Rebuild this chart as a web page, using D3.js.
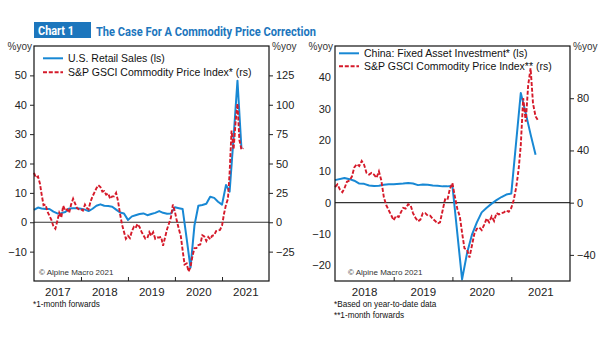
<!DOCTYPE html>
<html><head><meta charset="utf-8">
<script src="https://cdn.jsdelivr.net/npm/d3@7"></script>
<style>
body{margin:0;background:#fff;}
svg{display:block;font-family:"Liberation Sans",Arial,Helvetica,sans-serif;}
</style>
</head><body>
<svg id="chart" width="605" height="341"></svg>
<script>
// ---------- DATA ----------
const titleTag = "Chart 1";
const titleText = "The Case For A Commodity Price Correction";

// Left panel: U.S. retail sales (%yoy, monthly, left scale)
const usRetailStart = "2017-01-01";
const usRetail = [
  4.2, 5.0, 4.7, 4.5, 4.5, 3.6, 3.0, 3.1, 3.5, 4.7, 4.8, 4.8,
  4.6, 4.3, 3.8, 4.6, 5.6, 6.1, 5.6, 5.5, 5.3, 4.3, 3.3, 3.0,
  0.8, 2.0, 2.4, 2.8, 3.0, 2.4, 2.8, 3.2, 3.8, 3.2, 2.9, 3.0,
  5.1, 4.8, 4.5, -5.5, -15.5, -1.0, 5.6, 5.9, 6.3, 8.7, 8.3, 7.0,
  6.0, 12.7, 10.4, 29.0, 48.2, 25.0
];
// Left panel: S&P GSCI 1-month forwards (%yoy, twice a month, right scale)
const gsciLeftStart = "2017-01-01";
const gsciLeft = [
  42, 38, 39, 33, 24, 14.5, 15, 9, 5.5, 2, -3.5, -5.5,
  1, 8, 4, 14, 10, 11, 8, 15, 20, 16, 12, 11,
  11, 10, 15, 12, 11, 17.5, 22, 25.5, 28.9, 31.5, 30, 26,
  26.5, 23.5, 24.5, 20, 22, 22, 25, 18, 7, -2, -8, -14,
  -11.5, -13.5, -7.5, -4, -5, -1.5, -4, -8, -11, -14, -13.5, -8.5,
  -11.5, -8.5, -14, -13, -13, -12.5, -20, -13, -6, -1, 4, 15,
  9, 1, -6, -12, -24, -36, -35, -42, -38, -29, -22, -22,
  -19.5, -19, -11, -12, -16, -12.5, -14.5, -11.5, -11, -7.5, -7, -6.5,
  -3, 7, 15, 20, 42, 78, 62, 85, 101, 70, 62, 63
];

// Right panel: China fixed asset investment (%yoy, YTD, left scale)
const chinaFaiDates = [
  "2018-01-01","2018-03-01","2018-04-01","2018-05-01","2018-06-01","2018-07-01","2018-08-01",
  "2018-09-01","2018-10-01","2018-11-01","2018-12-01","2019-01-01","2019-03-01","2019-04-01",
  "2019-05-01","2019-06-01","2019-07-01","2019-08-01","2019-09-01","2019-10-01","2019-11-01",
  "2019-12-01","2020-01-01","2020-03-01","2020-04-01","2020-05-01","2020-06-01","2020-07-01",
  "2020-08-01","2020-09-01","2020-10-01","2020-11-01","2020-12-01","2021-01-01","2021-03-01",
  "2021-04-01","2021-05-01","2021-06-01"
];
const chinaFai = [
  7.2, 7.9, 7.5, 7.0, 6.1, 6.0, 5.5,
  5.3, 5.4, 5.7, 5.9, 5.9, 6.1, 6.3,
  6.1, 5.6, 5.8, 5.7, 5.5, 5.4, 5.2,
  5.2, 5.4, -24.5, -16.1, -10.3, -6.3, -3.1,
  -1.6, -0.3, 0.8, 1.8, 2.6, 2.9, 35.0,
  28.5, 21.8, 15.3
];
// Right panel: S&P GSCI 1-month forwards (%yoy, twice a month, right scale)
const gsciRightStart = "2018-01-01";
const gsciRight = [
  12, 14, 10, 8, 11, 16, 17, 20, 27, 29.5, 28, 32,
  29, 22.8, 21.5, 22.8, 21.5, 19, 24, 17, 4, -2, -5.8, -9.5,
  -13.5, -10, -11, -7, -4, -4.5, -1.2, -2, -8, -11.5, -14.3, -13,
  -8, -8, -10, -10, -12.5, -14, -16, -15, -6, 2.5, 2, 10.5,
  15, 4.8, -5, -10.5, -23, -35, -36, -42, -33, -24, -20, -19,
  -21, -17, -12, -15, -10.5, -14, -8, -9, -8, -7.5, -6, -7,
  -4, 2, 12, 26, 44, 80, 62, 90, 103, 76, 66, 63
];

// Axis ticks / labels
const leftTicksL = [-10, 0, 10, 20, 30, 40, 50];
const leftTicksR = [-25, 0, 25, 50, 75, 100, 125];
const rightTicksL = [-20, -10, 0, 10, 20, 30, 40];
const rightTicksR = [-40, 0, 40, 80];
const leftYears = [2017, 2018, 2019, 2020, 2021];
const rightYears = [2018, 2019, 2020, 2021];

const legendLeft = ["U.S. Retail Sales (ls)", "S&P GSCI Commodity Price Index* (rs)"];
const legendRight = ["China: Fixed Asset Investment* (ls)", "S&P GSCI Commodity Price Index** (rs)"];
const notesLeft = ["*1-month forwards"];
const notesRight = ["*Based on year-to-date data", "**1-month forwards"];
const copyright = "\u00A9 Alpine Macro 2021";

// ---------- DRAW ----------
const BLUE = "#1888d4", RED = "#d51a2a", TITLE_BLUE = "#1c76bd";
const DASH = "4,1.8";
const parse = d3.timeParse("%Y-%m-%d");
const svg = d3.select("#chart");

function halfMonthly(startStr, vals) {
  const s = parse(startStr);
  return vals.map((v, i) => {
    const m = d3.timeMonth.offset(s, Math.floor(i / 2));
    return { d: i % 2 ? d3.timeDay.offset(m, 15) : m, v };
  });
}
function monthly(startStr, vals) {
  const s = parse(startStr);
  return vals.map((v, i) => ({ d: d3.timeMonth.offset(s, i), v }));
}

// Title
svg.append("rect").attr("x", 34).attr("y", 22).attr("width", 57).attr("height", 16).attr("fill", TITLE_BLUE);
svg.append("text").attr("x", 38).attr("y", 35).attr("fill", "#fff")
  .style("font-family", "Roboto, 'Liberation Sans', sans-serif").style("font-weight", "bold").style("font-size", "13px")
  .attr("textLength", 36).attr("lengthAdjust", "spacingAndGlyphs").text(titleTag);
svg.append("text").attr("x", 96).attr("y", 35.5).attr("fill", TITLE_BLUE)
  .style("font-family", "Roboto, 'Liberation Sans', sans-serif").style("font-weight", "bold").style("font-size", "13px")
  .attr("textLength", 220).attr("lengthAdjust", "spacingAndGlyphs").text(titleText);

function panel(cfg) {
  const x = d3.scaleTime().domain(cfg.xDomain.map(parse)).range([cfg.x0, cfg.x1]);
  const yL = d3.scaleLinear().domain(cfg.yL).range([cfg.y1, cfg.y0]);
  const yR = d3.scaleLinear().domain(cfg.yR).range([cfg.y1, cfg.y0]);
  const g = svg.append("g");

  // zero line
  g.append("line").attr("x1", cfg.x0).attr("x2", cfg.x1).attr("y1", yL(0)).attr("y2", yL(0))
    .attr("stroke", "#333").attr("stroke-width", 1.2);

  // lines
  const lineL = d3.line().x(d => x(d.d)).y(d => yL(d.v));
  const lineR = d3.line().x(d => x(d.d)).y(d => yR(d.v));
  g.append("path").datum(cfg.blue).attr("d", lineL).attr("fill", "none")
    .attr("stroke", BLUE).attr("stroke-width", 2).attr("stroke-linejoin", "round");
  g.append("path").datum(cfg.red).attr("d", lineR).attr("fill", "none")
    .attr("stroke", RED).attr("stroke-width", 1.9).attr("stroke-dasharray", DASH);

  // frame
  g.append("rect").attr("x", cfg.x0).attr("y", cfg.y0).attr("width", cfg.x1 - cfg.x0).attr("height", cfg.y1 - cfg.y0)
    .attr("fill", "none").attr("stroke", "#111").attr("stroke-width", 1.2);

  // left axis
  const aL = g.append("g").attr("transform", `translate(${cfg.x0},0)`)
    .call(d3.axisLeft(yL).tickValues(cfg.ticksL).tickSize(cfg.leftTickSize).tickPadding(cfg.leftTickSize ? 3 : 4));
  // right axis
  const aR = g.append("g").attr("transform", `translate(${cfg.x1},0)`)
    .call(d3.axisRight(yR).tickValues(cfg.ticksR).tickSize(4).tickPadding(3));
  [aL, aR].forEach(a => {
    a.select(".domain").remove();
    a.selectAll("line").attr("stroke", "#222");
    a.selectAll("text").style("font-size", "11px").attr("fill", "#222").style("font-family", "'Liberation Sans', Arial, sans-serif");
  });

  // x axis: boundary ticks inside
  const bounds = cfg.years.slice(1).map(yv => new Date(yv, 0, 1));
  const ax = g.append("g").attr("transform", `translate(0,${cfg.y1})`)
    .call(d3.axisBottom(x).tickValues(bounds).tickSize(-4).tickFormat(""));
  ax.select(".domain").remove();
  ax.selectAll("line").attr("stroke", "#222");
  const mids = cfg.years.map(yv => new Date(yv, 6, 1));
  const axl = g.append("g").attr("transform", `translate(0,${cfg.y1})`)
    .call(d3.axisBottom(x).tickValues(mids).tickSize(0).tickPadding(7).tickFormat(d3.timeFormat("%Y")));
  axl.select(".domain").remove();
  axl.selectAll("text").style("font-size", "11.5px").attr("fill", "#222");

  // %yoy labels
  g.append("text").attr("x", cfg.x0 - 2).attr("y", 50).attr("text-anchor", "end")
    .style("font-size", "10px").attr("fill", "#333").text("%yoy");
  g.append("text").attr("x", cfg.x1 + 3).attr("y", 50)
    .style("font-size", "10px").attr("fill", "#333").text("%yoy");

  // legend
  cfg.legend.forEach((t, i) => {
    const ly = cfg.legY + i * cfg.legDy;
    g.append("line").attr("x1", cfg.x0 + cfg.legX).attr("x2", cfg.x0 + cfg.legX + 20)
      .attr("y1", ly).attr("y2", ly)
      .attr("stroke", i ? RED : BLUE).attr("stroke-width", i ? 1.9 : 2)
      .attr("stroke-dasharray", i ? DASH : null);
    g.append("text").attr("x", cfg.x0 + cfg.legX + 25).attr("y", ly + 3.8)
      .style("font-size", "10.5px").attr("fill", "#111").text(t);
  });

  // copyright
  g.append("text").attr("x", cfg.x0 + cfg.copyX).attr("y", 275)
    .style("font-size", "8px").attr("fill", "#333").text(copyright);

  // notes
  cfg.notes.forEach((t, i) => {
    g.append("text").attr("x", cfg.x0 - 1).attr("y", 307 + i * 10.5)
      .style("font-size", "8.2px").attr("fill", "#111").text(t);
  });
}

panel({
  x0: 34, x1: 269, y0: 46, y1: 281,
  xDomain: ["2017-01-01", "2022-01-01"], yL: [-20, 60], yR: [-50, 150],
  ticksL: leftTicksL, ticksR: leftTicksR, years: leftYears, leftTickSize: 4,
  blue: monthly(usRetailStart, usRetail), red: halfMonthly(gsciLeftStart, gsciLeft),
  legend: legendLeft, legX: 9, legY: 58.3, legDy: 14, copyX: 5, notes: notesLeft
});
panel({
  x0: 335, x1: 570, y0: 46, y1: 281,
  xDomain: ["2018-01-01", "2022-01-01"], yL: [-25, 50], yR: [-60, 120],
  ticksL: rightTicksL, ticksR: rightTicksR, years: rightYears, leftTickSize: 0,
  blue: chinaFai.map((v, i) => ({ d: parse(chinaFaiDates[i]), v })), red: halfMonthly(gsciRightStart, gsciRight),
  legend: legendRight, legX: 4, legY: 53.3, legDy: 12.9, copyX: 13, notes: notesRight
});
</script>
</body></html>
